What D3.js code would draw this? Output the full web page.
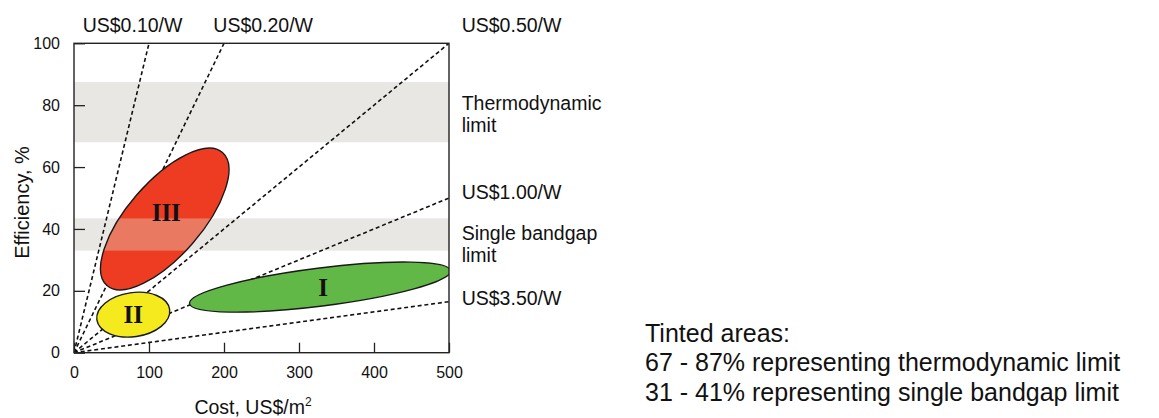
<!DOCTYPE html>
<html><head><meta charset="utf-8">
<script src="https://cdn.jsdelivr.net/npm/d3@7"></script>
<style>body{margin:0;background:#fff} svg{display:block}</style>
</head><body><svg id="c" width="1159" height="418"></svg>
<script>
// ---- data ----
const xTicks = [0, 100, 200, 300, 400, 500];
const yTicks = [0, 20, 40, 60, 80, 100];
const priceLabels = ["US$0.10/W", "US$0.20/W", "US$0.50/W", "US$1.00/W", "US$3.50/W"];
const priceEndCost = [100, 200, 500, 500, 500];
const priceEndEff = [100, 100, 100, 50, 16.5];
const bandLabels = [["Thermodynamic", "limit"], ["Single bandgap", "limit"]];
const bandLow = [68, 33];
const bandHigh = [87.5, 43.4];
const ellipseNames = ["I", "II", "III"];
const ellipseCenterCost = [328, 79, 121];
const ellipseCenterEff = [21.2, 12.3, 43.2];
const ellipseTipCost = [502, 127.5, 198];
const ellipseTipEff = [26.5, 14.0, 64.7];
const ellipseAspect = [0.145, 0.6, 0.42];
const labelCost = [332, 79, 123];
const labelEff = [21.0, 12.2, 45.3];
const noteLines = ["Tinted areas:", "67 - 87% representing thermodynamic limit", "31 - 41% representing single bandgap limit"];

// ---- styles / layout ----
const ellipseColors = ["#62b846", "#f4ea1e", "#ee3c23"];
const bandColor = "#e9e7e3";
const sans = "'Liberation Sans', Arial, Helvetica, sans-serif";
const serif = "'Liberation Serif', 'Times New Roman', serif";
const L = 74, R = 449, T = 43.3, B = 352.7;

const svg = d3.select("#c");
svg.append("rect").attr("width", 1159).attr("height", 418).attr("fill", "#fff");

const x = d3.scaleLinear().domain([0, 500]).range([L, R]);
const y = d3.scaleLinear().domain([0, 100]).range([B, T]);

svg.append("clipPath").attr("id", "plotclip").append("rect")
  .attr("x", L).attr("y", T).attr("width", R - L).attr("height", B - T);

const plot = svg.append("g").attr("clip-path", "url(#plotclip)");

// bands
const bands = bandLow.map((lo, i) => ({lo, hi: bandHigh[i]}));
plot.selectAll("rect.band").data(bands).join("rect").attr("class", "band")
  .attr("x", x(0)).attr("width", x(500) - x(0))
  .attr("y", d => y(d.hi)).attr("height", d => y(d.lo) - y(d.hi))
  .attr("fill", bandColor);

// price lines
const lines = priceLabels.map((l, i) => ({l, c: priceEndCost[i], e: priceEndEff[i]}));
plot.selectAll("line.price").data(lines).join("line").attr("class", "price")
  .attr("x1", x(0)).attr("y1", y(0))
  .attr("x2", d => x(d.c)).attr("y2", d => y(d.e))
  .attr("stroke", "#111").attr("stroke-width", 1.6).attr("stroke-dasharray", "4,2.8");

// ellipses
const ells = ellipseNames.map((n, i) => {
  const cx = x(ellipseCenterCost[i]), cy = y(ellipseCenterEff[i]);
  const tx = x(ellipseTipCost[i]), ty = y(ellipseTipEff[i]);
  const a = Math.hypot(tx - cx, ty - cy);
  const ang = Math.atan2(ty - cy, tx - cx) * 180 / Math.PI;
  return {n, cx, cy, a, b: a * ellipseAspect[i], ang, color: ellipseColors[i],
          lx: x(labelCost[i]), ly: y(labelEff[i]), i};
});
const defs = svg.append("defs");
ells.forEach(d => {
  defs.append("clipPath").attr("id", "ec" + d.i).append("ellipse")
    .attr("cx", d.cx).attr("cy", d.cy).attr("rx", d.a).attr("ry", d.b)
    .attr("transform", `rotate(${d.ang},${d.cx},${d.cy})`);
});
const eg = plot.selectAll("g.ell").data(ells).join("g").attr("class", "ell");
eg.append("ellipse")
  .attr("cx", d => d.cx).attr("cy", d => d.cy).attr("rx", d => d.a).attr("ry", d => d.b)
  .attr("transform", d => `rotate(${d.ang},${d.cx},${d.cy})`)
  .attr("fill", d => d.color);
// tinted overlap
eg.each(function(d) {
  d3.select(this).append("g").attr("clip-path", `url(#ec${d.i})`)
    .selectAll("rect").data(bands).join("rect")
    .attr("x", x(0)).attr("width", x(500) - x(0))
    .attr("y", b => y(b.hi)).attr("height", b => y(b.lo) - y(b.hi))
    .attr("fill", d3.interpolateRgb(d.color, "#e6c4ae")(0.45));
});
eg.append("ellipse")
  .attr("cx", d => d.cx).attr("cy", d => d.cy).attr("rx", d => d.a).attr("ry", d => d.b)
  .attr("transform", d => `rotate(${d.ang},${d.cx},${d.cy})`)
  .attr("fill", "none").attr("stroke", "#1a1a1a").attr("stroke-width", 1.4);
eg.append("text").attr("x", d => d.lx).attr("y", d => d.ly).attr("dy", "0.33em")
  .attr("text-anchor", "middle").attr("font-family", serif).attr("font-weight", "bold")
  .attr("font-size", 25).attr("fill", "#111").text(d => d.n);

// axes
const yAxis = d3.axisLeft(y).tickValues(yTicks).tickSizeInner(-11).tickSizeOuter(0).tickPadding(14);
const xAxis = d3.axisBottom(x).tickValues(xTicks).tickSizeInner(-10).tickSizeOuter(0).tickPadding(14);
const gy = svg.append("g").attr("transform", `translate(${L},0)`).call(yAxis);
const gx = svg.append("g").attr("transform", `translate(0,${B})`).call(xAxis);
[gx, gy].forEach(g => {
  g.select(".domain").remove();
  g.selectAll("line").attr("stroke", "#222").attr("stroke-width", 1.3);
  g.selectAll("text").attr("font-family", sans).attr("font-size", 16).attr("fill", "#111");
});
svg.append("rect").attr("x", L).attr("y", T).attr("width", R - L).attr("height", B - T)
  .attr("fill", "none").attr("stroke", "#222").attr("stroke-width", 1.4);

// axis titles
const xt = svg.append("text").attr("x", 253).attr("y", 413.5).attr("text-anchor", "middle")
  .attr("font-family", sans).attr("font-size", 19.5).attr("fill", "#111");
xt.append("tspan").text("Cost, US$/m");
xt.append("tspan").attr("font-size", 12).attr("dy", -8).text("2");
svg.append("text").attr("transform", "translate(29,202.5) rotate(-90)").attr("text-anchor", "middle")
  .attr("font-family", sans).attr("font-size", 20).attr("fill", "#111").text("Efficiency, %");

// price line labels
const priceLabelPos = [[82.7, 32], [213.3, 32], [461.7, 31.5], [461.7, 199], [461.7, 304.5]];
svg.selectAll("text.pl").data(lines).join("text").attr("class", "pl")
  .attr("x", (d, i) => priceLabelPos[i][0]).attr("y", (d, i) => priceLabelPos[i][1])
  .attr("font-family", sans).attr("font-size", 19.5).attr("fill", "#111").text(d => d.l);

// band labels
const bandLabelY = [110, 239.5];
bandLabels.forEach((ls, i) => {
  ls.forEach((t, j) => {
    svg.append("text").attr("x", 461.7).attr("y", bandLabelY[i] + j * 22.2)
      .attr("font-family", sans).attr("font-size", 19.5).attr("fill", "#111").text(t);
  });
});

// note
svg.selectAll("text.note").data(noteLines).join("text").attr("class", "note")
  .attr("x", 645).attr("y", (d, i) => 341.7 + i * 29.5)
  .attr("font-family", sans).attr("font-size", 25).attr("fill", "#111").text(d => d);
</script></body></html>
